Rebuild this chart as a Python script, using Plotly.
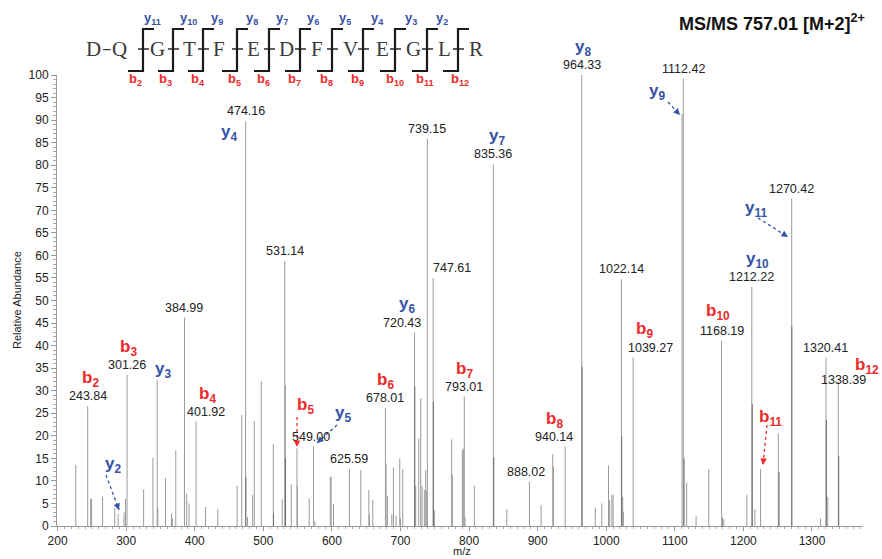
import plotly.graph_objects as go

# ---------------- data ----------------
mz = [226.5, 243.84, 248.2, 249.6, 265.6, 283.4, 288.3, 296.9, 298.9, 301.26, 325.4, 339, 345.2, 346.2, 357.3,
      366, 367.4, 372.3, 384.99, 388.2, 391.6, 401.92, 415.7, 433.6, 461.8, 468.5, 474.16, 477, 484.4, 486.8,
      497, 514.5, 527.6, 531.14, 532, 540.7, 549.00, 549.6, 566.9, 573.2, 575.1, 597.5, 598.9, 602.3, 625.59,
      642.1, 653.8, 654.7, 659.6, 678.01, 679, 680.9, 687.3, 689.7, 693.6, 698.9, 699.9, 703.3, 720.43, 722.2,
      726.6, 729.5, 731.4, 734.8, 736.8, 738.2, 739.15, 747.61, 749.4, 774.6, 775.6, 790.2, 791.6, 793.01,
      794.1, 807.7, 835.36, 855, 888.02, 905, 922, 923, 940.14, 964.33, 984, 993.6, 1003.3, 1005, 1008.2,
      1010, 1022.14, 1024, 1025, 1039.27, 1110.5, 1112.42, 1117.3, 1131, 1149.5, 1168.19, 1169.5, 1171.5,
      1205, 1212.22, 1216.8, 1225, 1251, 1270.42, 1312.4, 1320.41, 1323, 1338.39]
intensity = [13.5, 26.6, 6.1, 6.0, 6.5, 4.0, 2.7, 3.0, 6.0, 33.5, 8.1, 15.2, 32.3, 4.0, 10.6,
             2.8, 1.7, 16.8, 46.2, 7.2, 5.0, 23.1, 4.2, 3.7, 8.9, 24.6, 89.7, 2.0, 6.9, 23.3,
             32.1, 18.2, 5.9, 58.7, 31.2, 9.2, 17.2, 8.9, 6.1, 17.7, 1.0, 10.9, 10.9, 4.8, 12.6,
             12.4, 8.0, 2.5, 5.8, 26.2, 13.9, 6.7, 2.6, 13.0, 2.3, 15.0, 1.7, 12.6, 42.9, 8.9,
             19.4, 28.3, 8.9, 8.0, 12.4, 7.8, 85.9, 55.0, 3.5, 19.2, 11.3, 16.8, 17.2, 28.7,
             2.0, 8.9, 80.2, 3.7, 9.8, 4.7, 15.9, 13.1, 17.6, 100.0, 4.1, 5.0, 13.4, 5.8, 6.9,
             6.9, 54.7, 6.5, 3.2, 37.3, 91.4, 99.2, 9.6, 2.2, 12.6, 41.1, 1.9, 1.5,
             6.9, 53.0, 3.7, 12.6, 20.5, 72.6, 1.7, 37.3, 6.4, 32.0]

# overlapping (darker) inner peaks
mz_over = [474.5, 514.8, 532.4, 720.8, 747.9, 836, 964.8, 1022.5, 1113.5, 1213, 1252, 1270.6, 1321, 1339]
int_over = [10.9, 2.8, 15.0, 30.9, 27.5, 15.2, 35.3, 19.9, 15.0, 27.0, 12.0, 44.2, 23.5, 15.5]

# m/z labels
label_text = ["243.84", "301.26", "384.99", "401.92", "474.16", "531.14", "549.00", "625.59", "678.01",
              "720.43", "739.15", "747.61", "793.01", "835.36", "888.02", "940.14", "964.33", "1022.14",
              "1039.27", "1112.42", "1168.19", "1212.22", "1270.42", "1320.41", "1338.39"]
label_mz = [243.84, 301.26, 384.99, 401.92, 474.16, 531.14, 549.00, 625.59, 678.01, 720.43, 739.15,
            747.61, 793.01, 835.36, 888.02, 940.14, 964.33, 1022.14, 1039.27, 1112.42, 1168.19, 1212.22,
            1270.42, 1320.41, 1338.39]
label_int = [26.6, 33.5, 46.2, 23.1, 89.7, 58.7, 17.2, 12.6, 26.2, 42.9, 85.9, 55.0, 28.7, 80.2, 9.8,
             17.6, 100.0, 54.7, 37.3, 99.2, 41.1, 53.0, 72.6, 37.3, 32.0]
label_dx = [0, 0, 0, 10, 0, 0, 14, 0, 0, -13, 0, 19, 0, 0, -3, -11, 0, 0, 17, 0, 0, 0, 0, 0, 5]
label_dy = [1, 1, 1, 1, 1, 1, 2, 1, 1, 1, 1, 1, 1, 1, 1, 1, 1, 1, 1, 1, 1, 1, 1, 1, -7]

residues = ["D", "Q", "G", "T", "F", "E", "D", "F", "V", "E", "G", "L", "R"]
y_ions = ["11", "10", "9", "8", "7", "6", "5", "4", "3", "2"]
b_ions = ["2", "3", "4", "5", "6", "7", "8", "9", "10", "11", "12"]

# ---------------- layout geometry (screen pixels) ----------------
W, H = 882, 559
S_LEFT, S_RIGHT, S_TOP, S_BOT = 57, 863, 75, 526
L, T = S_LEFT, S_TOP
R, B = W - S_RIGHT, H - S_BOT
PW, PH = S_RIGHT - S_LEFT, S_BOT - S_TOP
X_RANGE = [199.1, 1374.4]


def px(x):
    return (x - S_LEFT) / PW


def py(y):
    return (S_BOT - y) / PH


RED = "#ee2a2a"
BLUE = "#3553a5"
FONT = "Liberation Sans, Arial"

fig = go.Figure()

xs, ys = [], []
for m, v in zip(mz, intensity):
    xs += [m, m, None]
    ys += [0, v, None]
fig.add_trace(go.Scatter(x=xs, y=ys, mode="lines", line=dict(color="#9a9a9a", width=1),
                         hoverinfo="skip", showlegend=False, cliponaxis=False))
xo, yo = [], []
for m, v in zip(mz_over, int_over):
    xo += [m, m, None]
    yo += [0, v, None]
fig.add_trace(go.Scatter(x=xo, y=yo, mode="lines", line=dict(color="#6e6e6e", width=1),
                         hoverinfo="skip", showlegend=False, cliponaxis=False))

ann = []
for t, m, v, dx, dy in zip(label_text, label_mz, label_int, label_dx, label_dy):
    ann.append(dict(x=m, y=v, xref="x", yref="y", text=t, showarrow=False, yanchor="bottom",
                    xanchor="center", xshift=dx, yshift=dy,
                    font=dict(family=FONT, size=12.5, color="#222")))

ion_labels = [("b", "2", 90, 379), ("b", "3", 128, 348), ("y", "3", 163, 370), ("y", "2", 113, 465),
              ("b", "4", 207, 395), ("y", "4", 229, 133), ("b", "5", 305, 406), ("y", "5", 343, 414),
              ("b", "6", 385, 381), ("y", "6", 407, 305), ("b", "7", 464, 370), ("y", "7", 497, 137),
              ("b", "8", 554, 420), ("y", "8", 583, 48), ("y", "9", 657, 92), ("b", "9", 644, 330),
              ("b", "10", 718, 312), ("y", "10", 757, 260), ("y", "11", 756, 209), ("b", "11", 770, 418),
              ("b", "12", 867, 366)]
for kind, n, x, y in ion_labels:
    ann.append(dict(x=px(x), y=py(y), xref="paper", yref="paper", showarrow=False,
                    text="<b>%s<sub>%s</sub></b>" % (kind, n), xanchor="center", yanchor="middle",
                    font=dict(family=FONT, size=17, color=RED if kind == "b" else BLUE)))

shapes = []
arrows = [(106, 475, 119, 510, BLUE), (297, 417, 297, 447, RED), (337, 425, 317, 443, BLUE),
          (668, 102, 680, 115, BLUE), (758, 218, 788, 237, BLUE), (767, 425, 763, 465, RED)]
for x0, y0, x1, y1, c in arrows:
    shapes.append(dict(type="line", xref="paper", yref="paper", x0=px(x0), y0=py(y0), x1=px(x1), y1=py(y1),
                       line=dict(color=c, width=1.3, dash="dot")))
    dx, dy = x1 - x0, y1 - y0
    ln = (dx * dx + dy * dy) ** 0.5
    ann.append(dict(x=px(x1), y=py(y1), xref="paper", yref="paper", text="", showarrow=True,
                    ax=-dx / ln * 7, ay=-dy / ln * 7, axref="pixel", ayref="pixel",
                    arrowhead=2, arrowsize=1, arrowwidth=1.3, arrowcolor=c))

# peptide header
res_x = [93, 119, 157, 189, 219, 253, 286, 317, 350, 382, 413, 444, 476]
for r, x in zip(residues, res_x):
    ann.append(dict(x=px(x), y=py(49), xref="paper", yref="paper", text=r, showarrow=False,
                    xanchor="center", yanchor="middle",
                    font=dict(family="Liberation Serif, Times New Roman", size=21, color="#3a3a3a")))
ann.append(dict(x=px(106), y=py(49), xref="paper", yref="paper", text="\u2212", showarrow=False,
                xanchor="center", yanchor="middle", font=dict(family=FONT, size=16, color="#3a3a3a")))

sep_x = [143, 173, 203, 237, 269, 300, 332, 363, 395, 427, 458]
for x in sep_x:
    shapes.append(dict(type="path", xref="paper", yref="paper",
                       path="M %f %f L %f %f L %f %f L %f %f" % (px(x + 11), py(29), px(x), py(29),
                                                                   px(x), py(71), px(x - 15), py(71)),
                       line=dict(color="#1a1a1a", width=2.2)))
    shapes.append(dict(type="line", xref="paper", yref="paper", x0=px(x - 5), x1=px(x + 6), y0=py(49), y1=py(49),
                       line=dict(color="#1a1a1a", width=1.4)))

yl_x = [152, 188, 217, 252, 282, 313, 345, 377, 411, 442]
for n, x in zip(y_ions, yl_x):
    ann.append(dict(x=px(x), y=py(19), xref="paper", yref="paper", showarrow=False,
                    text="<b>y<sub>%s</sub></b>" % n, xanchor="center", yanchor="middle",
                    font=dict(family=FONT, size=13, color=BLUE)))
bl_x = [135, 165, 198, 234, 263, 294, 326, 357, 395, 425, 460]
for n, x in zip(b_ions, bl_x):
    ann.append(dict(x=px(x), y=py(79), xref="paper", yref="paper", showarrow=False,
                    text="<b>b<sub>%s</sub></b>" % n, xanchor="center", yanchor="middle",
                    font=dict(family=FONT, size=13, color=RED)))

# title
ann.append(dict(x=px(867), y=py(22), xref="paper", yref="paper", showarrow=False, xanchor="right",
                yanchor="middle", text="<b>MS/MS 757.01 [M+2]<sup>2+</sup></b>",
                font=dict(family=FONT, size=18, color="#111")))
# axis titles
ann.append(dict(x=px(17), y=py(300), xref="paper", yref="paper", showarrow=False, textangle=-90,
                text="Relative Abundance", xanchor="center", yanchor="middle",
                font=dict(family=FONT, size=11, color="#222")))
ann.append(dict(x=px(462), y=py(551), xref="paper", yref="paper", showarrow=False,
                text="m/z", xanchor="center", yanchor="middle",
                font=dict(family=FONT, size=11, color="#222")))

fig.update_layout(
    width=W, height=H, margin=dict(l=L, r=R, t=T, b=B, autoexpand=False),
    paper_bgcolor="white", plot_bgcolor="white",
    annotations=ann, shapes=shapes, showlegend=False,
    xaxis=dict(range=X_RANGE, tickmode="linear", tick0=200, dtick=100, ticks="outside", ticklen=4,
               tickcolor="#999", showline=True, linecolor="#999", linewidth=1, showgrid=False, zeroline=False,
               minor=dict(dtick=10, tick0=200, ticks="outside", ticklen=2, tickcolor="#aaa"),
               tickfont=dict(family=FONT, size=12, color="#222"), automargin=False),
    yaxis=dict(range=[0, 100], tickmode="linear", tick0=0, dtick=5, ticks="outside", ticklen=5,
               tickcolor="#999", showline=True, linecolor="#999", linewidth=1, showgrid=False, zeroline=False,
               minor=dict(dtick=1, ticks="outside", ticklen=3, tickcolor="#aaa"),
               tickfont=dict(family=FONT, size=12, color="#222"), automargin=False),
)

fig.write_html("out.html", config={"displayModeBar": False},
               post_script="document.body.style.margin='0';document.body.style.overflow='hidden';")
